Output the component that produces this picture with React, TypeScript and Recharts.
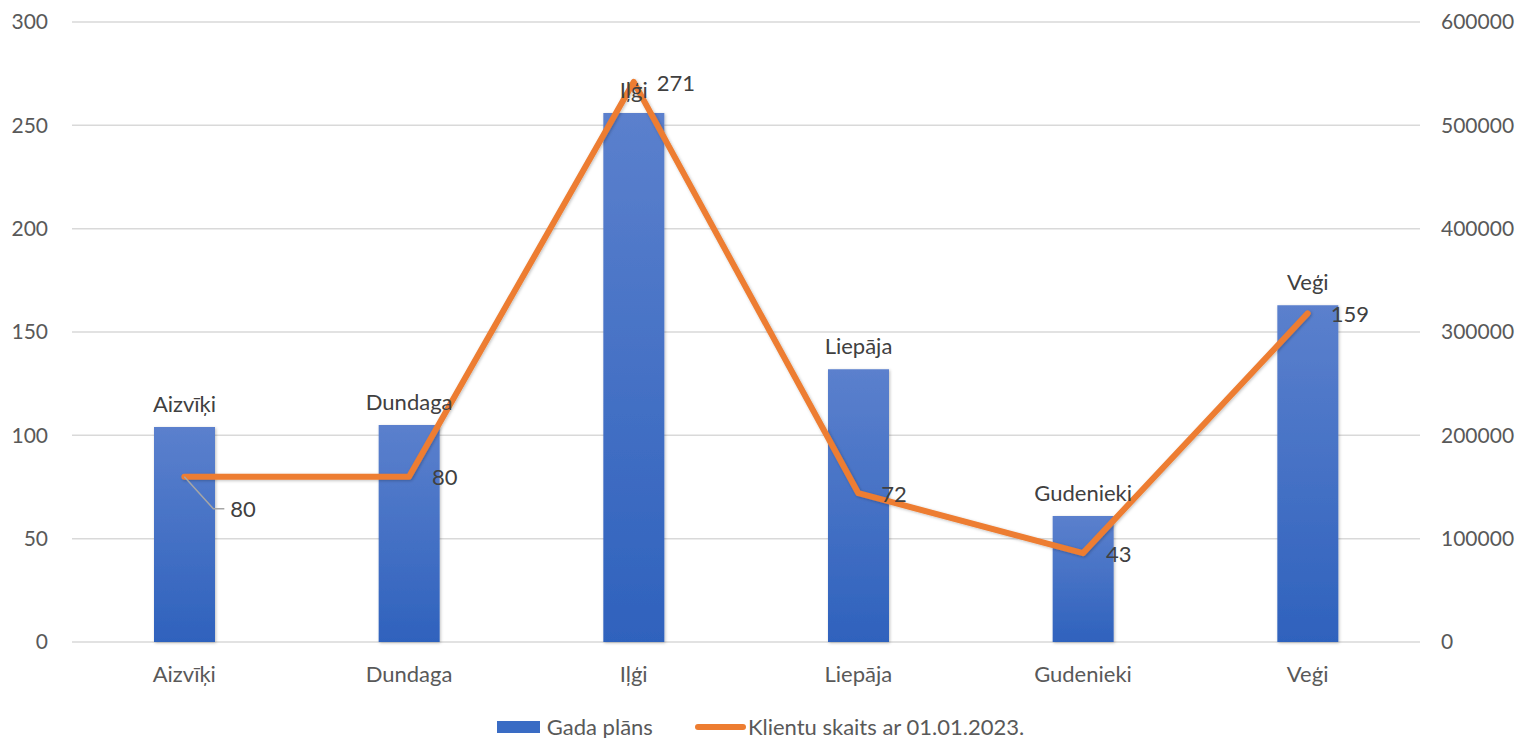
import { ComposedChart, Bar, Line, XAxis, YAxis, CartesianGrid, LabelList } from "recharts";

// place names, yearly plan (left axis) and client count (right axis)
const places = ["Aizvīķi", "Dundaga", "Iļģi", "Liepāja", "Gudenieki", "Veģi"];
const gadaPlans = [104, 105, 256, 132, 61, 163];
const klientuSkaits = [160000, 160000, 542000, 144000, 86000, 318000];
const klientuLabels = [80, 80, 271, 72, 43, 159];
const leftTicks = [0, 50, 100, 150, 200, 250, 300];
const rightTicks = [0, 100000, 200000, 300000, 400000, 500000, 600000];

const data = places.map((p, i) => ({
  place: p,
  plan: gadaPlans[i],
  clients: klientuSkaits[i],
  lbl: klientuLabels[i],
}));

const FONT = "Lato, 'Open Sans', sans-serif";
const TXT = "#595959";
const FS = 22;
const AXFS = 21;

// line labels sit right of the point; the first one is pulled off with a leader line
const LineLabel = (props: any) => {
  const { x, y, index, value } = props;
  if (index === 0) {
    return (
      <g>
        <polyline points={`${x},${y} ${x + 29},${y + 32} ${x + 40},${y + 32}`} fill="none" stroke="#a6a6a6" strokeWidth={1.5} />
        <text x={x + 46} y={y + 35} dominantBaseline="middle" fontSize={FS} fill="#404040" fontFamily={FONT}>{value}</text>
      </g>
    );
  }
  return (
    <text x={x + 23} y={y + 3} dominantBaseline="middle" fontSize={FS} fill="#404040" fontFamily={FONT}>{value}</text>
  );
};

export default function App() {
  return (
    <div style={{ position: "absolute", left: 0, top: 0, width: 1521, height: 738, background: "#fff", fontFamily: FONT }}>
      <ComposedChart width={1521} height={700} data={data} margin={{ top: 22, right: 0, bottom: 0, left: 0 }}>
        <defs>
          <linearGradient id="barGrad" x1="0" y1="0" x2="0" y2="1">
            <stop offset="0%" stopColor="#5b80cd" />
            <stop offset="100%" stopColor="#2f62bd" />
          </linearGradient>
          <filter id="shadow" x="-20%" y="-20%" width="140%" height="140%">
            <feDropShadow dx="1" dy="1" stdDeviation="1.5" floodColor="#000" floodOpacity="0.25" />
          </filter>
        </defs>
        <CartesianGrid vertical={false} stroke="#d9d9d9" strokeWidth={1.5} yAxisId="left" />
        <XAxis
          dataKey="place"
          axisLine={false}
          tickLine={false}
          height={58}
          tick={{ fontSize: FS, fill: TXT, fontFamily: FONT }}
          tickMargin={18}
        />
        <YAxis
          yAxisId="left"
          domain={[0, 300]}
          ticks={leftTicks}
          width={72}
          axisLine={false}
          tickLine={false}
          tick={{ fontSize: AXFS, fill: TXT, fontFamily: FONT }}
          tickMargin={18}
        />
        <YAxis
          yAxisId="right"
          orientation="right"
          domain={[0, 600000]}
          ticks={rightTicks}
          width={101}
          axisLine={false}
          tickLine={false}
          tick={{ fontSize: AXFS, fill: TXT, fontFamily: FONT }}
          tickMargin={15}
        />
        <Bar yAxisId="left" dataKey="plan" fill="url(#barGrad)" barSize={61} isAnimationActive={false} filter="url(#shadow)">
          <LabelList dataKey="place" position="top" offset={15} style={{ fontSize: FS, fill: "#404040", fontFamily: FONT }} />
        </Bar>
        <Line
          yAxisId="right"
          dataKey="clients"
          stroke="#ed7d31"
          strokeWidth={6}
          dot={false}
          activeDot={false}
          strokeLinejoin="round"
          strokeLinecap="round"
          filter="url(#shadow)"
          isAnimationActive={false}
        >
          <LabelList dataKey="lbl" content={LineLabel} />
        </Line>
      </ComposedChart>
      <div style={{ position: "absolute", top: 713, left: 0, width: 1521, display: "flex", justifyContent: "center", alignItems: "center", fontSize: FS, color: TXT, gap: 42 }}>
        <div style={{ display: "flex", alignItems: "center" }}>
          <span style={{ display: "inline-block", width: 43, height: 12, background: "#3a6cc4", marginRight: 7 }} />
          Gada plāns
        </div>
        <div style={{ display: "flex", alignItems: "center" }}>
          <span style={{ display: "inline-block", width: 51, height: 6, borderRadius: 3, background: "#ed7d31", marginRight: 2 }} />
          Klientu skaits ar 01.01.2023.
        </div>
      </div>
    </div>
  );
}
